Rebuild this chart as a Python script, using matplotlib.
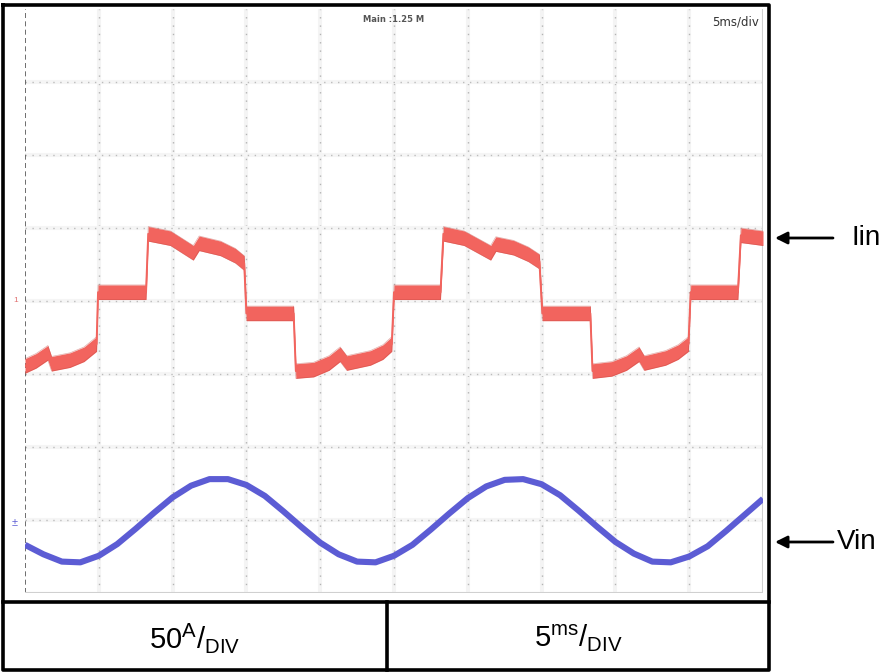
import numpy as np
import matplotlib

matplotlib.use("Agg")
import matplotlib.pyplot as plt

plt.rcParams["font.family"] = ["Liberation Sans", "DejaVu Sans"]
plt.rcParams["mathtext.fontset"] = "custom"
plt.rcParams["mathtext.rm"] = "Liberation Sans"

# scope screen: 10 x 8 divisions, values in divisions
iin_t = [0.00, 0.15, 0.31, 0.36, 0.61, 0.80, 0.97,
         0.99, 1.64,
         1.67, 1.97, 2.28, 2.36, 2.65, 2.85, 2.97,
         3.00, 3.64,
         3.67, 3.91, 4.12, 4.27, 4.36, 4.68, 4.85, 4.97,
         5.00, 5.63,
         5.67, 5.95, 6.31, 6.38, 6.62, 6.82, 6.97,
         7.01, 7.66,
         7.69, 7.95, 8.15, 8.32, 8.39, 8.68, 8.85, 8.99,
         9.02, 9.66,
         9.70, 10.0]
iin_v = [3.11, 3.18, 3.29, 3.14, 3.19, 3.27, 3.41,
         4.12, 4.12,
         4.92, 4.86, 4.66, 4.79, 4.72, 4.62, 4.52,
         3.83, 3.83,
         3.04, 3.06, 3.15, 3.27, 3.15, 3.22, 3.30, 3.41,
         4.12, 4.12,
         4.92, 4.86, 4.66, 4.78, 4.73, 4.64, 4.54,
         3.83, 3.83,
         3.04, 3.07, 3.15, 3.27, 3.15, 3.22, 3.30, 3.41,
         4.12, 4.12,
         4.90, 4.86]
iin_band = 0.1

vin_t = np.arange(41) * 0.25
vin_v = [0.66, 0.53, 0.43, 0.42, 0.51, 0.67, 0.88, 1.10, 1.31, 1.47,
         1.56, 1.56, 1.48, 1.33, 1.12, 0.90, 0.69, 0.53, 0.43, 0.42,
         0.51, 0.66, 0.87, 1.09, 1.30, 1.46, 1.55, 1.56, 1.49, 1.34,
         1.13, 0.91, 0.70, 0.54, 0.43, 0.42, 0.50, 0.64, 0.85, 1.07,
         1.29]

iin_ref = 4.0
vin_ref = 0.96

fig = plt.figure(figsize=(8.96, 6.72), dpi=100)

# frame / table overlay in pixel coordinates
frame = fig.add_axes([0, 0, 1, 1])
frame.set_xlim(0, 896)
frame.set_ylim(672, 0)
frame.axis("off")
lw_box = 2.6
frame.plot([3, 769, 769, 3, 3], [5, 5, 670, 670, 5], color="black", lw=lw_box)
frame.plot([3, 769], [602, 602], color="black", lw=lw_box)
frame.plot([387, 387], [602, 670], color="black", lw=lw_box)
frame.text(195, 638, r"$\mathregular{50^{A}/_{DIV}}$", fontsize=21,
           ha="center", va="center")
frame.text(578, 638, r"$\mathregular{5^{ms}/_{DIV}}$", fontsize=21,
           ha="center", va="center")
for y, label, xt in [(238, "Iin", 852), (542, "Vin", 837)]:
    frame.annotate("", xy=(775, y), xytext=(833, y),
                   arrowprops=dict(arrowstyle="-|>", color="black", lw=2,
                                   mutation_scale=18, shrinkA=0, shrinkB=0))
    frame.text(xt, y, label, fontsize=20, ha="left", va="center")

# scope axes
ax = fig.add_axes([25 / 896, (672 - 593) / 672, 738 / 896, 584 / 672])
ax.set_xlim(0, 10)
ax.set_ylim(0, 8)
ax.set_facecolor("white")
for s in ax.spines.values():
    s.set_visible(False)
ax.set_xticks([])
ax.set_yticks([])

for x in range(1, 10):
    ax.axvline(x, color="#f4f4f4", lw=3, zorder=1)
    ax.axvline(x, color="#b4b4b4", lw=1.0, linestyle=(0, (1, 5)), zorder=1)
for y in range(1, 8):
    ax.axhline(y, color="#f5f5f5", lw=3, zorder=1)
    ax.axhline(y, color="#bcbcbc", lw=1.0, linestyle=(0, (1, 4)), zorder=1)
ax.axvline(0, color="#555555", lw=1.2, linestyle=(0, (3, 2)), zorder=2)
ax.axvline(10, color="#d0d0d0", lw=1.5, zorder=2)
ax.axhline(0, color="#d0d0d0", lw=1.5, zorder=2)

# Iin trace
t = np.array(iin_t)
v = np.array(iin_v)
ax.fill_between(t, v - iin_band, v + iin_band, color="#f2645e", lw=0, zorder=3)
ax.plot(t, v - iin_band, color="#c04a44", lw=0.5, alpha=0.45, zorder=4)
ax.plot(t, v + iin_band, color="#c04a44", lw=0.5, alpha=0.45, zorder=4)
ax.plot(t, v, color="#f2645e", lw=1.4, zorder=4)

# Vin trace
ax.plot(vin_t, vin_v, color="#5c5cd4", lw=4.4, solid_capstyle="butt",
        solid_joinstyle="round", zorder=5)

# channel markers
ax.text(-0.1, iin_ref, "1", color="#e07070", fontsize=6, ha="right",
        va="center", clip_on=False)
ax.text(-0.1, vin_ref, "\u00b1", color="#5c5cd4", fontsize=8, ha="right",
        va="center", clip_on=False)

ax.text(0.50, 0.982, "Main :1.25 M", transform=ax.transAxes, fontsize=6,
        color="#555555", ha="center", va="center", fontweight="bold",
        family="DejaVu Sans")
ax.text(0.995, 0.977, "5ms/div", transform=ax.transAxes, fontsize=8.5,
        color="#333333", ha="right", va="center",
        family=["Liberation Sans Narrow", "DejaVu Sans"])

fig.savefig("out.png", dpi=100)
